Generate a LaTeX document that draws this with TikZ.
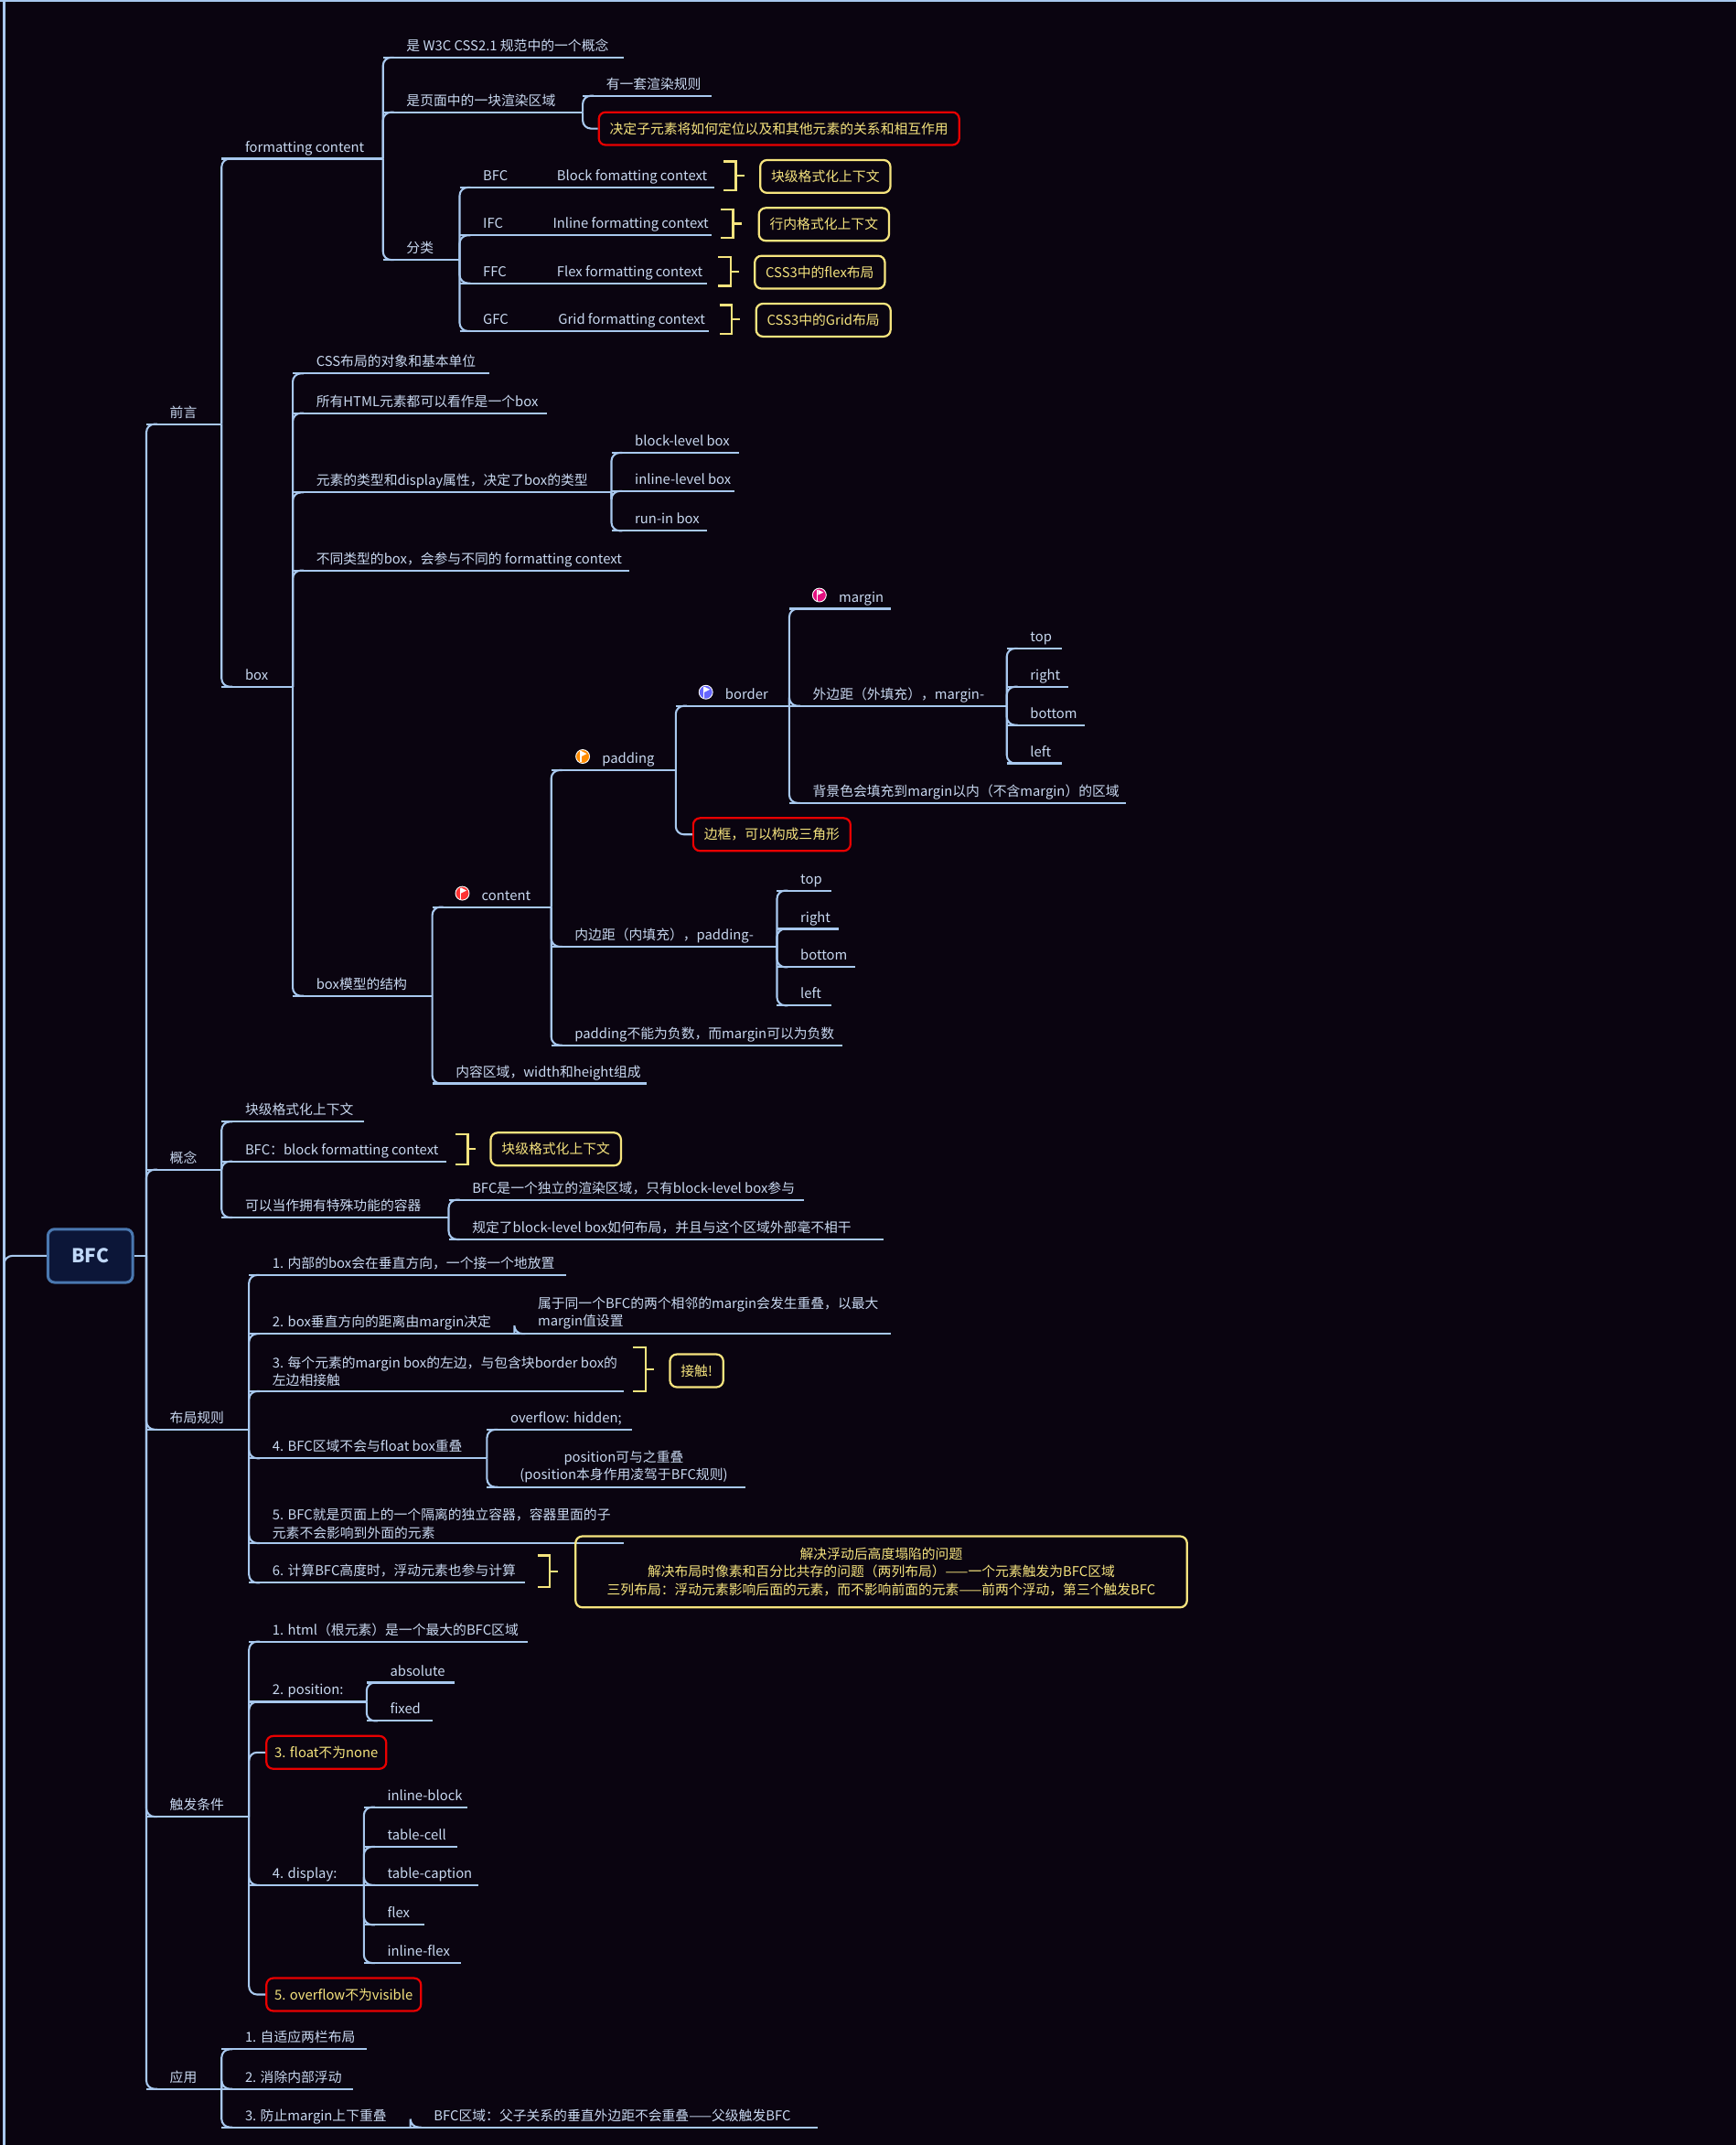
\documentclass[tikz,border=0pt]{standalone}
\usepackage{fontspec}
\setmainfont{Noto Sans CJK SC}
\definecolor{bg}{HTML}{0A0410}
\definecolor{ln}{HTML}{A8C8EE}
\definecolor{tx}{HTML}{C8D8F0}
\definecolor{yl}{HTML}{F6E47E}
\definecolor{rd}{HTML}{E80000}
\definecolor{rootd}{HTML}{4A78B0}
\definecolor{rootf}{HTML}{0C1638}
\definecolor{roott}{HTML}{C0D8F8}
\tikzset{
 ul/.style={ln,line width=1.4pt},
 conn/.style={ln,line width=1.4pt,rounded corners=6pt},
 txt/.style={tx,font=\fontsize{9.9}{11}\selectfont,inner sep=0pt,anchor=base west},
 txtm/.style={tx,font=\fontsize{9.9}{13}\selectfont,inner sep=0pt,anchor=south west,align=left},
 bx/.style={line width=1.5pt,rounded corners=5pt,text=yl,font=\fontsize{9.9}{13}\selectfont,minimum height=24pt,inner xsep=8pt,anchor=west},
 ybox/.style={bx,draw=yl},
 rbox/.style={bx,draw=rd},
 brk/.style={yl,line width=1.5pt},
}
\newcommand\itm[6][17]{\coordinate (#2-l) at (#3,#5); \coordinate (#2-r) at (#4,#5); \draw[ul] (#2-l)--(#2-r); \node[txt] (#2) at (#3+#1,#5-5) {#6};}
\newcommand\itmm[5]{\coordinate (#1-l) at (#2,#4); \coordinate (#1-r) at (#3,#4); \draw[ul] (#1-l)--(#1-r); \node[txtm] (#1) at (#2+17,#4-3) {#5};}
\newcommand\lnk[2]{\draw[conn] (#1-r) |- ([xshift=8pt]#2-l);}
\newcommand\lnkb[2]{\draw[conn] (#1-r) |- (#2.west);}
\newcommand\brkt[4]{\draw[brk] (#2,#3) -- (#2+9,#3) -- (#2+9,#4) -- (#2,#4); \coordinate (#1) at (#2+15,#3/2+#4/2); \draw[brk] (#2+9,#3/2+#4/2) -- (#1);}
\newcommand\flag[4]{\fill[#4,draw=white,line width=0.6pt] (#2+22,#3-10) circle (5pt); \fill[white] (#2+20,#3-14) rectangle (#2+21,#3-6); \fill[white] (#2+21,#3-14) -- (#2+25,#3-12) -- (#2+21,#3-10) -- cycle; \coordinate (#1) at (#2+22,#3-10);}
\begin{document}
\begin{tikzpicture}[x=1pt,y=-1pt]
\fill[bg] (0,0) rectangle (1269,1568);
\useasboundingbox (0,0) rectangle (1269,1568);
\draw[ul] (0,0.7) -- (1269,0.7);
\draw[ul] (3,0) -- (3,1568);
\node[draw=rootd,line width=2pt,fill=rootf,rounded corners=5pt,minimum width=62pt,minimum height=39pt,text=roott,font=\fontsize{14}{16}\selectfont\bfseries] (root) at (66,918) {BFC};
\draw[conn] (3,940) |- (root.west);
\coordinate (root-r) at (107,918);
\draw[ul] (root.east) -- (root-r);
% trunk
\itm{qy}{107}{162}{310}{前言}
\itm{gn}{107}{162}{855}{概念}
\itm{bj}{107}{182}{1045}{布局规则}
\itm{cf}{107}{182}{1328}{触发条件}
\itm{yy}{107}{162}{1527}{应用}
\foreach \c in {qy,gn,bj,cf,yy} {\lnk{root}{\c}}
% 前言
\itm{fc}{162}{280}{116}{formatting content}
\itm{box}{162}{214}{502}{box}
\lnk{qy}{fc}\lnk{qy}{box}
\itm{w3c}{280}{456}{42}{是 W3C CSS2.1 规范中的一个概念}
\itm{ym}{280}{426}{82}{是页面中的一块渲染区域}
\itm{fl}{280}{336}{190}{分类}
\lnk{fc}{w3c}\lnk{fc}{ym}\lnk{fc}{fl}
\itm{xr}{426}{520}{70}{有一套渲染规则}
\node[rbox] (jd) at (437,94) {决定子元素将如何定位以及和其他元素的关系和相互作用};
\lnk{ym}{xr}\lnkb{ym}{jd}
\itm{bfc}{336}{522}{137}{BFC}\node[txt] (bfct) at (407,132) {Block fomatting context};
\itm{ifc}{336}{520}{172}{IFC}\node[txt] (ifct) at (404,167) {Inline formatting context};
\itm{ffc}{336}{517}{207}{FFC}\node[txt] (ffct) at (407,202) {Flex formatting context};
\itm{gfc}{336}{518}{242}{GFC}\node[txt] (gfct) at (408,237) {Grid formatting context};
\foreach \c in {bfc,ifc,ffc,gfc} {\lnk{fl}{\c}}
\brkt{b1}{529}{118}{139}\node[ybox] (y1) at (555,129) {块级格式化上下文};
\brkt{b2}{527}{153}{174}\node[ybox] (y2) at (554,164) {行内格式化上下文};
\brkt{b3}{525}{188}{209}\node[ybox] (y3) at (551,199) {CSS3中的flex布局};
\brkt{b4}{526}{223}{244}\node[ybox] (y4) at (552,234) {CSS3中的Grid布局};
% box
\itm{dx}{214}{358}{273}{CSS布局的对象和基本单位}
\itm{html}{214}{400}{302}{所有HTML元素都可以看作是一个box}
\itm{lx}{214}{447}{360}{元素的类型和display属性，决定了box的类型}
\itm{bt}{214}{460}{417}{不同类型的box，会参与不同的 formatting context}
\itm{mx}{214}{316}{728}{box模型的结构}
\foreach \c in {dx,html,lx,bt,mx} {\lnk{box}{\c}}
\itm{blb}{447}{540}{331}{block-level box}
\itm{ilb}{447}{537}{359}{inline-level box}
\itm{rib}{447}{517}{388}{run-in box}
\foreach \c in {blb,ilb,rib} {\lnk{lx}{\c}}
\itm[36]{ct}{316}{403}{663}{content}\flag{fct}{316}{663}{red!80!white}
\itm{nr}{316}{473}{792}{内容区域，width和height组成}
\lnk{mx}{ct}\lnk{mx}{nr}
\itm[37]{pd}{403}{494}{563}{padding}\flag{fpd}{404}{563}{orange!90!yellow}
\itm{nb}{403}{568}{692}{内边距（内填充），padding-}
\itm{pn}{403}{616}{764}{padding不能为负数，而margin可以为负数}
\lnk{ct}{pd}\lnk{ct}{nb}\lnk{ct}{pn}
\itm[36]{bd}{494}{577}{516}{border}\flag{fbd}{494}{516}{blue!60!white}
\node[rbox] (sj) at (506,610) {边框，可以构成三角形};
\lnk{pd}{bd}\lnkb{pd}{sj}
\itm[36]{mg}{577}{651}{445}{margin}\flag{fmg}{577}{445}{magenta!80!purple}
\itm{wb}{577}{736}{516}{外边距（外填充），margin-}
\itm{bj2}{577}{823}{587}{背景色会填充到margin以内（不含margin）的区域}
\lnk{bd}{mg}\lnk{bd}{wb}\lnk{bd}{bj2}
\itm{mt}{736}{776}{474}{top}\itm{mr}{736}{781}{502}{right}\itm{mb}{736}{793}{530}{bottom}\itm{ml}{736}{776}{558}{left}
\foreach \c in {mt,mr,mb,ml} {\lnk{wb}{\c}}
\itm{pt}{568}{608}{651}{top}\itm{pr}{568}{613}{679}{right}\itm{pb}{568}{625}{707}{bottom}\itm{pl}{568}{608}{735}{left}
\foreach \c in {pt,pr,pb,pl} {\lnk{nb}{\c}}
% 概念
\itm{gn1}{162}{266}{820}{块级格式化上下文}
\itm{gn2}{162}{326}{849}{BFC：block formatting context}
\itm{gn3}{162}{328}{890}{可以当作拥有特殊功能的容器}
\foreach \c in {gn1,gn2,gn3} {\lnk{gn}{\c}}
\brkt{b5}{333}{829}{851}\node[ybox] (y5) at (358,840) {块级格式化上下文};
\itm{gn31}{328}{588}{877}{BFC是一个独立的渲染区域，只有block-level box参与}
\itm{gn32}{328}{646}{906}{规定了block-level box如何布局，并且与这个区域外部毫不相干}
\lnk{gn3}{gn31}\lnk{gn3}{gn32}
% 布局规则
\itm{r1}{182}{414}{932}{1. 内部的box会在垂直方向，一个接一个地放置}
\itm{r2}{182}{376}{975}{2. box垂直方向的距离由margin决定}
\itmm{r3}{182}{456}{1017}{3. 每个元素的margin box的左边，与包含块border box的\\左边相接触}
\itm{r4}{182}{356}{1066}{4. BFC区域不会与float box重叠}
\itmm{r5}{182}{456}{1128}{5. BFC就是页面上的一个隔离的独立容器，容器里面的子\\元素不会影响到外面的元素}
\itm{r6}{182}{384}{1157}{6. 计算BFC高度时，浮动元素也参与计算}
\foreach \c in {r1,r2,r3,r4,r5,r6} {\lnk{bj}{\c}}
\itmm{r21}{376}{651}{975}{属于同一个BFC的两个相邻的margin会发生重叠，以最大\\margin值设置}
\lnk{r2}{r21}
\brkt{b6}{463}{985}{1017}\node[ybox] (y6) at (489,1002) {接触!};
\itm{r41}{356}{462}{1045}{overflow: hidden;}
\coordinate (r42-l) at (356,1087); \coordinate (r42-r) at (545,1087); \draw[ul] (r42-l)--(r42-r);
\node[txtm,align=center,anchor=south] (r42) at (456,1084) {position可与之重叠\\(position本身作用凌驾于BFC规则)};
\lnk{r4}{r41}\lnk{r4}{r42}
\brkt{b7}{393}{1137}{1160}
\node[ybox,align=center,minimum width=447pt,minimum height=52pt] (y7) at (420,1149) {解决浮动后高度塌陷的问题\\解决布局时像素和百分比共存的问题（两列布局）——一个元素触发为BFC区域\\三列布局：浮动元素影响后面的元素，而不影响前面的元素——前两个浮动，第三个触发BFC};
% 触发条件
\itm{c1}{182}{386}{1200}{1. html（根元素）是一个最大的BFC区域}
\itm{c2}{182}{268}{1244}{2. position:}
\node[rbox,inner xsep=6pt] (c3) at (194,1281) {3. float不为none};
\itm{c4}{182}{266}{1378}{4. display:}
\node[rbox,inner xsep=6pt] (c5) at (194,1458) {5. overflow不为visible};
\lnk{cf}{c1}\lnk{cf}{c2}\lnkb{cf}{c3}\lnk{cf}{c4}\lnkb{cf}{c5}
\itm{c21}{268}{332}{1230}{absolute}\itm{c22}{268}{316}{1258}{fixed}
\lnk{c2}{c21}\lnk{c2}{c22}
\itm{d1}{266}{342}{1321}{inline-block}
\itm{d2}{266}{334}{1350}{table-cell}
\itm{d3}{266}{350}{1378}{table-caption}
\itm{d4}{266}{310}{1407}{flex}
\itm{d5}{266}{337}{1435}{inline-flex}
\foreach \c in {d1,d2,d3,d4,d5} {\lnk{c4}{\c}}
% 应用
\itm{a1}{162}{268}{1498}{1. 自适应两栏布局}
\itm{a2}{162}{258}{1527}{2. 消除内部浮动}
\itm{a3}{162}{300}{1555}{3. 防止margin上下重叠}
\foreach \c in {a1,a2,a3} {\lnk{yy}{\c}}
\itm{a31}{300}{598}{1555}{BFC区域：父子关系的垂直外边距不会重叠——父级触发BFC}
\lnk{a3}{a31}
\end{tikzpicture}
\end{document}
